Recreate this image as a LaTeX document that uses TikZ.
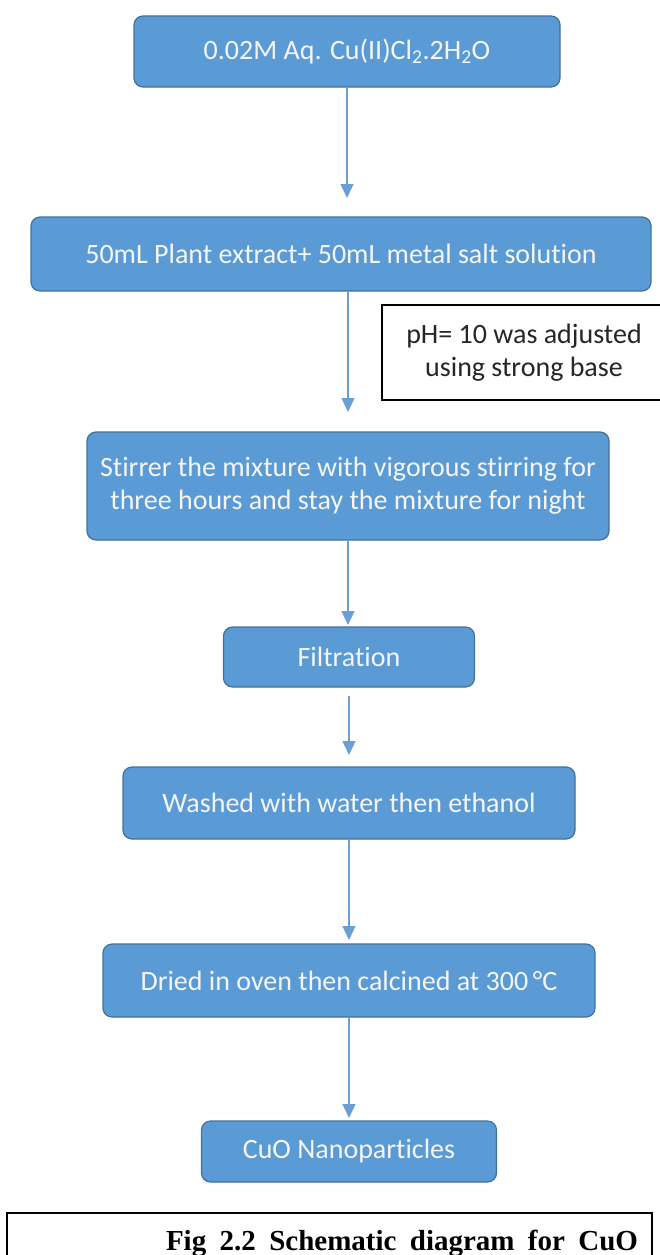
\documentclass[tikz,border=0pt]{standalone}
\usepackage{fontspec}
\setmainfont{Carlito}[Ligatures=NoCommon]
\newfontfamily\capfont{Liberation Serif}
\usetikzlibrary{arrows.meta}

\definecolor{boxfill}{HTML}{5B9BD5}
\definecolor{boxedge}{HTML}{41719C}
\definecolor{arrowblue}{HTML}{6A9FD6}

\begin{document}
\begin{tikzpicture}[x=1pt, y=-1pt,
  stepbox/.style={draw=boxedge, line width=1.2pt, fill=boxfill,
             rounded corners=9pt, text=white!96!black,
             font=\fontsize{28}{33}\selectfont, align=center,
             inner sep=0pt, outer sep=0pt, anchor=center},
  notebox/.style={draw=black, line width=1.4pt, fill=white,
             text=black!85, font=\fontsize{28}{33}\selectfont,
             align=center, inner sep=0pt, outer sep=0pt},
  flow/.style={draw=arrowblue, line width=1.2pt,
             -{Triangle[width=13pt, length=14pt]}},
]
\useasboundingbox (0,0) rectangle (660,1255);
% Steps
\node[stepbox, minimum width=426pt, minimum height=71pt] (salt) at (347,51.5)
  {0.02M Aq. Cu(II)Cl\textsubscript{2}.2H\textsubscript{2}O};
\node[stepbox, minimum width=620pt, minimum height=74pt] (mix) at (341,254)
  {50mL Plant extract+ 50mL metal salt solution};
\node[notebox, minimum width=284pt, minimum height=95pt] (ph) at (524,352.5)
  {pH= 10 was adjusted\\using strong base};
\node[stepbox, minimum width=522pt, minimum height=108pt] (stir) at (348,486)
  {Stirrer the mixture with vigorous stirring for\\three hours and stay the mixture for night};
\node[stepbox, minimum width=251pt, minimum height=60pt] (filt) at (349,657)
  {Filtration};
\node[stepbox, minimum width=452pt, minimum height=72pt] (wash) at (349,803)
  {Washed with water then ethanol};
\node[stepbox, minimum width=492pt, minimum height=73pt] (dry) at (349,980.5)
  {Dried in oven then calcined at 300\,\textdegree C};
\node[stepbox, minimum width=295pt, minimum height=61pt] (cuo) at (349,1151.5)
  {CuO Nanoparticles};
% Arrows
\draw[flow, shorten >=19pt] (salt.south) -- (salt.south |- mix.north);
\draw[flow, shorten >=20pt] (stir.north |- mix.south) -- (stir.north);
\draw[flow, shorten >=2pt]  (stir.south) -- (stir.south |- filt.north);
\draw[flow, shorten <=9pt, shorten >=12pt] (filt.south) -- (filt.south |- wash.north);
\draw[flow, shorten >=4pt]  (wash.south) -- (wash.south |- dry.north);
\draw[flow, shorten >=3pt]  (dry.south) -- (dry.south |- cuo.north);
% Caption
\node[draw=black, line width=1.4pt, minimum width=645pt, minimum height=60pt,
      inner xsep=14pt, text width=617pt, align=right] (cap) at (329.5,1243)
  {\capfont\bfseries\fontsize{29}{34}\selectfont
   \makebox[472pt]{Fig\hfill 2.2\hfill Schematic\hfill diagram\hfill for\hfill CuO}};
\end{tikzpicture}
\end{document}
